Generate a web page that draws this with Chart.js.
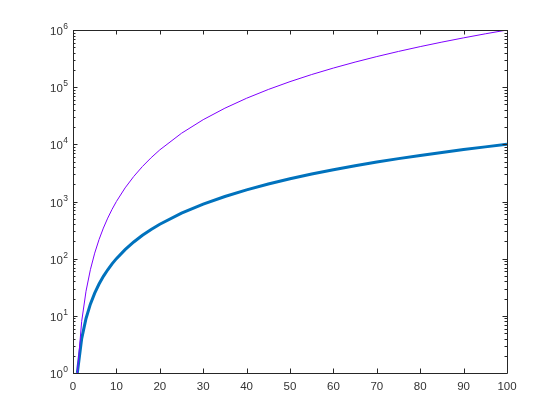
<!DOCTYPE html>
<html>
<head>
<meta charset="utf-8">
<script src="https://cdn.jsdelivr.net/npm/chart.js@4.4.1/dist/chart.umd.min.js"></script>
<style>
  html, body { margin: 0; padding: 0; background: #fff; }
  #wrap { width: 560px; height: 420px; }
</style>
</head>
<body>
<div id="wrap"><canvas id="chart" width="560" height="420"></canvas></div>
<script>
// === DATA ===
let xValues = [1, 2, 3, 4, 5, 6, 7, 8, 9, 10, 12, 14, 16, 18, 20, 25, 30, 35, 40, 45, 50, 55, 60, 65, 70, 75, 80, 85, 90, 95, 100];
let squareValues = [1, 4, 9, 16, 25, 36, 49, 64, 81, 100, 144, 196, 256, 324, 400, 625, 900, 1225, 1600, 2025, 2500, 3025, 3600, 4225, 4900, 5625, 6400, 7225, 8100, 9025, 10000];
let cubeValues = [1, 8, 27, 64, 125, 216, 343, 512, 729, 1000, 1728, 2744, 4096, 5832, 8000, 15625, 27000, 42875, 64000, 91125, 125000, 166375, 216000, 274625, 343000, 421875, 512000, 614125, 729000, 857375, 1000000];
let xTicks = [0, 10, 20, 30, 40, 50, 60, 70, 80, 90, 100];
let yExponents = [0, 1, 2, 3, 4, 5, 6];

let axisColor = '#262626';
let fontFamily = '"Liberation Sans", Arial, sans-serif';

// === AXES, TICKS AND LABELS (drawn inward, MATLAB style) ===
let matlabAxes = {
    id: 'matlabAxes',
    afterDraw(chart) {
        let ctx = chart.ctx;
        let a = chart.chartArea;
        let xs = chart.scales.x;
        let ys = chart.scales.y;
        ctx.save();
        ctx.strokeStyle = axisColor;
        ctx.lineWidth = 1;
        ctx.beginPath();
        ctx.rect(Math.round(a.left) + 0.5, Math.round(a.top) + 0.5,
                 Math.round(a.right - a.left), Math.round(a.bottom - a.top));
        ctx.stroke();

        // x ticks, bottom and top
        ctx.beginPath();
        xTicks.forEach(v => {
            let px = Math.round(xs.getPixelForValue(v)) + 0.5;
            ctx.moveTo(px, a.bottom); ctx.lineTo(px, a.bottom - 4.5);
            ctx.moveTo(px, a.top); ctx.lineTo(px, a.top + 4.5);
        });
        // y ticks, major and minor, left and right
        yExponents.forEach(e => {
            let py = Math.round(ys.getPixelForValue(Math.pow(10, e))) + 0.5;
            ctx.moveTo(a.left, py); ctx.lineTo(a.left + 4.5, py);
            ctx.moveTo(a.right, py); ctx.lineTo(a.right - 4.5, py);
            if (e < yExponents[yExponents.length - 1]) {
                for (let m = 2; m <= 9; m++) {
                    let my = Math.round(ys.getPixelForValue(m * Math.pow(10, e))) + 0.5;
                    ctx.moveTo(a.left, my); ctx.lineTo(a.left + 2.5, my);
                    ctx.moveTo(a.right, my); ctx.lineTo(a.right - 2.5, my);
                }
            }
        });
        ctx.stroke();

        // labels
        ctx.fillStyle = '#333333';
        ctx.font = '11.5px ' + fontFamily;
        ctx.textAlign = 'center';
        ctx.textBaseline = 'top';
        xTicks.forEach(v => {
            ctx.fillText(String(v), xs.getPixelForValue(v), a.bottom + 8);
        });
        yExponents.forEach(e => {
            let py = ys.getPixelForValue(Math.pow(10, e));
            ctx.font = '8.5px ' + fontFamily;
            let supW = ctx.measureText(String(e)).width;
            let supX = a.left - 5 - supW;
            ctx.textAlign = 'left';
            ctx.textBaseline = 'alphabetic';
            ctx.fillText(String(e), supX, py - 1);
            ctx.font = '11.5px ' + fontFamily;
            ctx.textAlign = 'right';
            ctx.fillText('10', supX - 0.5, py + 5);
        });
        ctx.restore();
    }
};

// === CHART ===
let ctx = document.getElementById('chart').getContext('2d');
let chart = new Chart(ctx, {
    type: 'line',
    data: {
        labels: xValues,
        datasets: [
            {
                label: 'x^3',
                data: xValues.map((x, i) => ({ x: x, y: cubeValues[i] })),
                borderColor: '#7f00ff',
                borderWidth: 1,
                pointRadius: 0,
                tension: 0,
                fill: false
            },
            {
                label: 'x^2',
                data: xValues.map((x, i) => ({ x: x, y: squareValues[i] })),
                borderColor: '#0072bd',
                borderWidth: 3,
                pointRadius: 0,
                tension: 0,
                fill: false
            }
        ]
    },
    options: {
        responsive: false,
        animation: false,
        events: [],
        layout: { padding: { left: 73, top: 30, right: 53, bottom: 47 } },
        plugins: { legend: { display: false }, tooltip: { enabled: false } },
        scales: {
            x: { type: 'linear', min: 0, max: 100, display: false },
            y: { type: 'logarithmic', min: 1, max: 1000000, display: false }
        }
    },
    plugins: [matlabAxes]
});
</script>
</body>
</html>
